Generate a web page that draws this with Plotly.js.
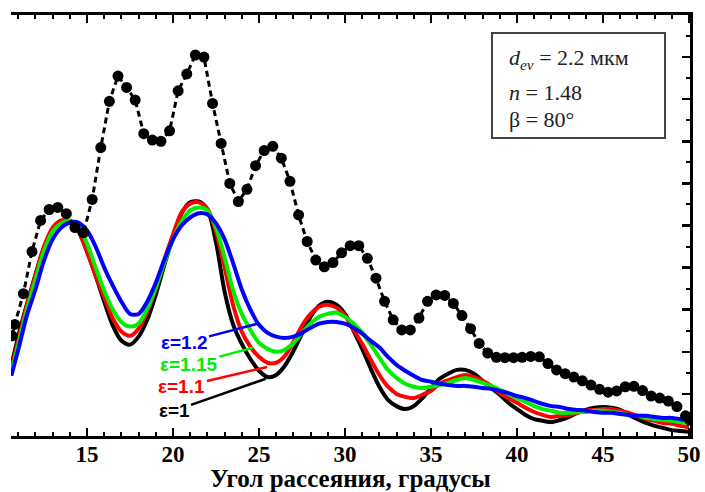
<!DOCTYPE html>
<html>
<head>
<meta charset="utf-8">
<script src="https://cdn.plot.ly/plotly-3.0.1.min.js"></script>
<style>html,body{margin:0;padding:0;background:#fff}#chart{width:705px;height:492px}</style>
</head>
<body>
<div id="chart"></div>
<script>
// Scattering angle grid for the theoretical curves (degrees)
const xTheory = [10.6, 11, 11.5, 12, 12.5, 13, 13.5, 14, 14.5, 15,
  15.5, 16, 16.5, 17, 17.5, 18, 18.5, 19, 19.5, 20,
  20.5, 21, 21.5, 22, 22.5, 23, 23.5, 24, 24.5, 25,
  25.5, 26, 26.5, 27, 27.5, 28, 28.5, 29, 29.5, 30,
  30.5, 31, 31.5, 32, 32.5, 33, 33.5, 34, 34.5, 35,
  35.5, 36, 36.5, 37, 37.5, 38, 38.5, 39, 39.5, 40,
  40.5, 41, 41.5, 42, 42.5, 43, 43.5, 44, 44.5, 45,
  45.5, 46, 46.5, 47, 47.5, 48, 48.5, 49, 49.5, 50];

// ε = 1 (black)
const eps100 = [1.67, 2.36, 3.12, 3.83, 4.48, 4.88, 5.07, 5.07, 4.86, 4.38,
  3.81, 3.19, 2.62, 2.26, 2.17, 2.36, 2.76, 3.36, 4.07, 4.71,
  5.29, 5.55, 5.57, 5.38, 4.60, 3.43, 2.64, 2.19, 1.83, 1.55,
  1.40, 1.45, 1.67, 2.02, 2.43, 2.83, 3.10, 3.19, 3.12, 2.90,
  2.50, 2.07, 1.60, 1.17, 0.86, 0.71, 0.64, 0.71, 0.90, 1.14,
  1.36, 1.48, 1.57, 1.57, 1.48, 1.31, 1.14, 0.98, 0.79, 0.64,
  0.50, 0.40, 0.36, 0.33, 0.38, 0.45, 0.55, 0.62, 0.67, 0.69,
  0.67, 0.62, 0.50, 0.40, 0.31, 0.24, 0.19, 0.14, 0.12, 0.10];
// ε = 1.1 (red)
const eps110 = [1.60, 2.26, 3.10, 3.81, 4.50, 4.95, 5.12, 5.10, 4.88, 4.38,
  3.81, 3.29, 2.79, 2.48, 2.38, 2.55, 2.95, 3.50, 4.19, 4.79,
  5.31, 5.52, 5.55, 5.40, 4.86, 4.00, 3.10, 2.48, 2.12, 1.88,
  1.74, 1.74, 1.90, 2.24, 2.62, 2.90, 3.07, 3.12, 3.05, 2.86,
  2.52, 2.19, 1.81, 1.45, 1.17, 1.00, 0.93, 0.90, 0.98, 1.07,
  1.24, 1.33, 1.40, 1.45, 1.40, 1.31, 1.19, 1.02, 0.90, 0.79,
  0.67, 0.57, 0.50, 0.45, 0.48, 0.50, 0.55, 0.60, 0.62, 0.64,
  0.64, 0.60, 0.55, 0.48, 0.40, 0.36, 0.31, 0.29, 0.24, 0.21];
// ε = 1.15 (green)
const eps115 = [1.52, 2.17, 3.00, 3.71, 4.40, 4.86, 5.05, 5.12, 4.98, 4.57,
  4.00, 3.45, 3.00, 2.71, 2.60, 2.67, 3.02, 3.52, 4.12, 4.67,
  5.10, 5.36, 5.43, 5.36, 4.95, 4.24, 3.45, 2.90, 2.52, 2.21,
  2.07, 2.00, 2.05, 2.21, 2.45, 2.67, 2.83, 2.90, 2.93, 2.83,
  2.67, 2.45, 2.17, 1.86, 1.57, 1.38, 1.24, 1.17, 1.14, 1.17,
  1.21, 1.26, 1.33, 1.38, 1.33, 1.26, 1.19, 1.10, 1.00, 0.90,
  0.81, 0.71, 0.64, 0.60, 0.55, 0.55, 0.57, 0.57, 0.60, 0.60,
  0.57, 0.55, 0.50, 0.48, 0.43, 0.40, 0.38, 0.36, 0.33, 0.31];
// ε = 1.2 (blue)
const eps120 = [1.43, 2.05, 2.86, 3.48, 4.17, 4.67, 4.95, 5.07, 5.07, 4.88,
  4.50, 4.00, 3.57, 3.19, 2.90, 2.90, 3.19, 3.64, 4.19, 4.67,
  5.00, 5.19, 5.29, 5.26, 5.05, 4.67, 4.10, 3.48, 3.00, 2.64,
  2.45, 2.36, 2.33, 2.36, 2.45, 2.57, 2.67, 2.71, 2.71, 2.67,
  2.57, 2.43, 2.26, 2.10, 1.88, 1.69, 1.55, 1.43, 1.33, 1.29,
  1.24, 1.21, 1.19, 1.19, 1.17, 1.14, 1.12, 1.07, 1.02, 0.95,
  0.90, 0.83, 0.76, 0.71, 0.69, 0.64, 0.62, 0.60, 0.57, 0.55,
  0.55, 0.52, 0.50, 0.48, 0.48, 0.45, 0.43, 0.43, 0.40, 0.38];

// Experimental data (black dots, dashed)
const xExp = [10.65, 10.8, 11.3, 11.8, 12.3, 12.8, 13.3, 13.8, 14.3, 14.8, 15.3,
  15.8, 16.3, 16.8, 17.3, 17.8, 18.3, 18.8, 19.3, 19.8, 20.3,
  20.8, 21.3, 21.8, 22.3, 22.8, 23.3, 23.8, 24.3, 24.8, 25.3,
  25.8, 26.3, 26.8, 27.3, 27.8, 28.3, 28.8, 29.3, 29.8, 30.3,
  30.8, 31.3, 31.8, 32.3, 32.8, 33.3, 33.8, 34.3, 34.8, 35.3,
  35.8, 36.3, 36.8, 37.3, 37.8, 38.3, 38.8, 39.3, 39.8, 40.3,
  40.8, 41.3, 41.8, 42.3, 42.8, 43.3, 43.8, 44.3, 44.8, 45.3,
  45.8, 46.3, 46.8, 47.3, 47.8, 48.3, 48.8, 49.3, 49.8, 50.05];
const yExp = [2.38, 2.65, 3.38, 4.38, 5.12, 5.38, 5.43, 5.28, 4.95, 4.83, 5.62,
  6.85, 7.95, 8.55, 8.28, 7.98, 7.18, 7.03, 7.00, 7.25, 8.20,
  8.60, 9.05, 9.00, 7.90, 6.95, 6.00, 5.57, 5.86, 6.42, 6.78,
  6.88, 6.60, 6.05, 5.25, 4.62, 4.18, 4.02, 4.12, 4.35, 4.52,
  4.52, 4.22, 3.75, 3.20, 2.76, 2.52, 2.52, 2.80, 3.20, 3.35,
  3.34, 3.15, 2.86, 2.55, 2.20, 1.97, 1.87, 1.86, 1.86, 1.87,
  1.89, 1.88, 1.72, 1.57, 1.48, 1.40, 1.31, 1.21, 1.11, 1.04,
  1.07, 1.17, 1.18, 1.08, 0.95, 0.90, 0.83, 0.70, 0.48, 0.38];

const xTickVals = [15, 20, 25, 30, 35, 40, 45, 50];
const seriesLabels = ['ε=1', 'ε=1.1', 'ε=1.15', 'ε=1.2'];
const seriesColors = ['#000000', '#ff0000', '#00ee00', '#0000ff'];
// label centre and arrow tip (data coordinates)
const labelX = [20.06, 20.52, 20.93, 20.64];
const labelY = [0.60, 1.17, 1.69, 2.21];
const tipX = [25.4, 25.47, 24.65, 24.94];
const tipY = [1.36, 1.64, 2.10, 2.67];

const series = [eps100, eps110, eps115, eps120];
const traces = series.map((ys, i) => ({
  x: xTheory, y: ys, type: 'scatter', mode: 'lines',
  line: {color: seriesColors[i], width: 4, shape: 'spline', smoothing: 0.8},
  name: seriesLabels[i], showlegend: false, hoverinfo: 'skip'
}));
traces.push({
  x: xExp, y: yExp, type: 'scatter', mode: 'lines+markers',
  line: {color: '#000', width: 3, dash: '6px,4px'},
  marker: {color: '#000', size: 11},
  showlegend: false, hoverinfo: 'skip'
});

const annotations = seriesLabels.map((t, i) => ({
  x: tipX[i], y: tipY[i], xref: 'x', yref: 'y',
  ax: labelX[i], ay: labelY[i], axref: 'x', ayref: 'y',
  text: t, showarrow: true, arrowhead: 0, arrowwidth: 2.5,
  arrowcolor: seriesColors[i],
  font: {family: 'Liberation Sans, Arial, sans-serif', size: 19, color: seriesColors[i], weight: 'bold'}
}));
const boxFont = {family: 'Liberation Serif, Times New Roman, serif', size: 22, color: '#222'};
annotations.push(
  {xref: 'paper', yref: 'paper', x: 0.7305, y: 0.895, xanchor: 'left', yanchor: 'middle', showarrow: false,
   text: '<i>d</i><sub><i>ev</i></sub> = 2.2 мкм', font: boxFont},
  {xref: 'paper', yref: 'paper', x: 0.7305, y: 0.817, xanchor: 'left', yanchor: 'middle', showarrow: false,
   text: '<i>n</i> = 1.48', font: boxFont},
  {xref: 'paper', yref: 'paper', x: 0.7305, y: 0.7506, xanchor: 'left', yanchor: 'middle', showarrow: false,
   text: 'β = 80°', font: boxFont}
);

const layout = {
  width: 705, height: 492,
  margin: {l: 11, r: 15, t: 15, b: 56},
  paper_bgcolor: '#fff', plot_bgcolor: '#fff',
  showlegend: false,
  xaxis: {
    range: [10.58, 50.06], tickvals: xTickVals, ticks: 'inside', ticklen: 8, tickwidth: 2.5,
    tickcolor: '#000', showline: true, linewidth: 3, linecolor: '#000', mirror: 'ticks',
    showgrid: false, zeroline: false, ticklabelstandoff: -5,
    minor: {dtick: 1, tick0: 0, ticks: 'inside', ticklen: 4, tickwidth: 2, tickcolor: '#000', showgrid: false},
    tickfont: {family: 'Liberation Serif, Times New Roman, serif', size: 23, color: '#000', weight: 'bold'},
    title: {text: 'Угол рассеяния, градусы', standoff: 1,
      font: {family: 'Liberation Serif, Times New Roman, serif', size: 25, color: '#000', weight: 'bold'}}
  },
  yaxis: {
    range: [0, 10], side: 'right', showticklabels: false, ticks: 'inside', ticklen: 8, tickwidth: 2.5,
    tickcolor: '#000', dtick: 1, tick0: 0, showline: true, linewidth: 3, linecolor: '#000', mirror: false,
    showgrid: false, zeroline: false,
    minor: {dtick: 0.5, tick0: 0, ticks: 'inside', ticklen: 4, tickwidth: 2, tickcolor: '#000', showgrid: false}
  },
  shapes: [{type: 'rect', xref: 'paper', yref: 'paper', x0: 0.7084, x1: 0.9632, y0: 0.7078, y1: 0.9572,
    line: {color: '#444', width: 2}, fillcolor: 'rgba(0,0,0,0)'}],
  annotations: annotations
};

Plotly.newPlot('chart', traces, layout, {staticPlot: true, displayModeBar: false});
</script>
</body>
</html>
